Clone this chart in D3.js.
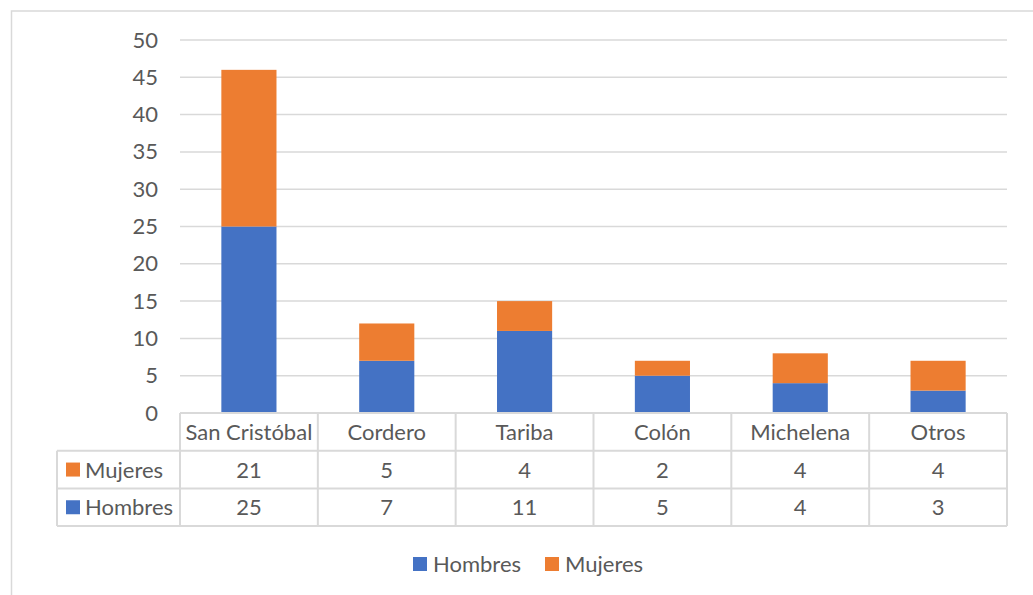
<!DOCTYPE html>
<html>
<head>
<meta charset="utf-8">
<script src="https://cdn.jsdelivr.net/npm/d3@7"></script>
<style>
  body { margin: 0; background: #fff; }
  text { font-family: Lato, "Open Sans", sans-serif; fill: #595959; }
</style>
</head>
<body>
<script>
// data
let categories = ["San Cristóbal", "Cordero", "Tariba", "Colón", "Michelena", "Otros"];
let hombres = [25, 7, 11, 5, 4, 3];
let mujeres = [21, 5, 4, 2, 4, 4];
let yTicks = [0, 5, 10, 15, 20, 25, 30, 35, 40, 45, 50];

let width = 1033;
let height = 595;
let plotLeft = 180, plotRight = 1007, plotTop = 40, plotBottom = 413;
let rowH = 37.7;
let fs = 22; // font size
let blue = "#4472c4", orange = "#ed7d31", grid = "#d9d9d9";

let svg = d3.select("body").append("svg")
  .attr("width", width)
  .attr("height", height);

// outer border
svg.append("rect")
  .attr("x", 11.5).attr("y", 11)
  .attr("width", 1040).attr("height", 600)
  .attr("fill", "none").attr("stroke", grid).attr("stroke-width", 1.5);

/* scales */
let x = d3.scaleBand().domain(categories).range([plotLeft, plotRight]).padding(0);
let y = d3.scaleLinear().domain([0, 50]).range([plotBottom, plotTop]);
let barW = x.bandwidth() * 0.4;

/* gridlines */
svg.append("g").selectAll("line")
  .data(yTicks.filter(d => d > 0))
  .join("line")
  .attr("x1", plotLeft).attr("x2", plotRight)
  .attr("y1", d => y(d)).attr("y2", d => y(d))
  .attr("stroke", grid).attr("stroke-width", 1.5);

/* y axis */
let axisY = d3.axisLeft(y).tickValues(yTicks).tickSize(0).tickPadding(0);
let gy = svg.append("g")
  .attr("transform", "translate(158,0)")
  .call(axisY);
gy.select(".domain").remove();
gy.selectAll("text")
  .attr("font-size", fs)
  .attr("fill", "#595959")
  .attr("font-family", "Lato, sans-serif");

/* bars */
let stacked = categories.map((c, i) => ({ c: c, h: hombres[i], m: mujeres[i] }));
let bars = svg.append("g");
bars.selectAll(".h").data(stacked).join("rect")
  .attr("class", "h")
  .attr("x", d => x(d.c) + (x.bandwidth() - barW) / 2)
  .attr("width", barW)
  .attr("y", d => y(d.h))
  .attr("height", d => y(0) - y(d.h))
  .attr("fill", blue);
bars.selectAll(".m").data(stacked).join("rect")
  .attr("class", "m")
  .attr("x", d => x(d.c) + (x.bandwidth() - barW) / 2)
  .attr("width", barW)
  .attr("y", d => y(d.h + d.m))
  .attr("height", d => y(d.h) - y(d.h + d.m))
  .attr("fill", orange);

/* data table */
let table = svg.append("g");
let line = (x1, y1, x2, y2) => table.append("line")
  .attr("x1", x1).attr("y1", y1).attr("x2", x2).attr("y2", y2)
  .attr("stroke", grid).attr("stroke-width", 2);
let keyLeft = 57;
line(plotLeft, plotBottom, plotRight, plotBottom);
line(keyLeft, plotBottom + rowH, plotRight, plotBottom + rowH);
line(keyLeft, plotBottom + 2 * rowH, plotRight, plotBottom + 2 * rowH);
line(keyLeft, plotBottom + 3 * rowH, plotRight, plotBottom + 3 * rowH);
line(keyLeft, plotBottom + rowH, keyLeft, plotBottom + 3 * rowH);
categories.forEach(c => line(x(c), plotBottom, x(c), plotBottom + 3 * rowH));
line(plotRight, plotBottom, plotRight, plotBottom + 3 * rowH);

table.selectAll(".cat").data(categories).join("text")
  .attr("x", d => x(d) + x.bandwidth() / 2)
  .attr("y", plotBottom + rowH / 2 + 8)
  .attr("text-anchor", "middle")
  .attr("font-size", fs)
  .text(d => d);

let rows = [
  { name: "Mujeres", vals: mujeres, color: orange },
  { name: "Hombres", vals: hombres, color: blue }
];
rows.forEach((r, ri) => {
  let cy = plotBottom + rowH * (ri + 1) + rowH / 2;
  table.append("rect")
    .attr("x", 66).attr("y", cy - 7)
    .attr("width", 14).attr("height", 14)
    .attr("fill", r.color);
  table.append("text")
    .attr("x", 85).attr("y", cy + 8)
    .attr("font-size", fs)
    .text(r.name);
  table.selectAll(".v" + ri).data(r.vals).join("text")
    .attr("x", (d, i) => x(categories[i]) + x.bandwidth() / 2)
    .attr("y", cy + 8)
    .attr("text-anchor", "middle")
    .attr("font-size", fs)
    .text(d => d);
});

/* legend */
let legendItems = [
  { name: "Hombres", color: blue, x: 413 },
  { name: "Mujeres", color: orange, x: 545 }
];
let lg = svg.append("g");
legendItems.forEach(l => {
  lg.append("rect")
    .attr("x", l.x).attr("y", 557)
    .attr("width", 14).attr("height", 14)
    .attr("fill", l.color);
  lg.append("text")
    .attr("x", l.x + 20).attr("y", 572)
    .attr("font-size", fs)
    .text(l.name);
});
</script>
</body>
</html>
